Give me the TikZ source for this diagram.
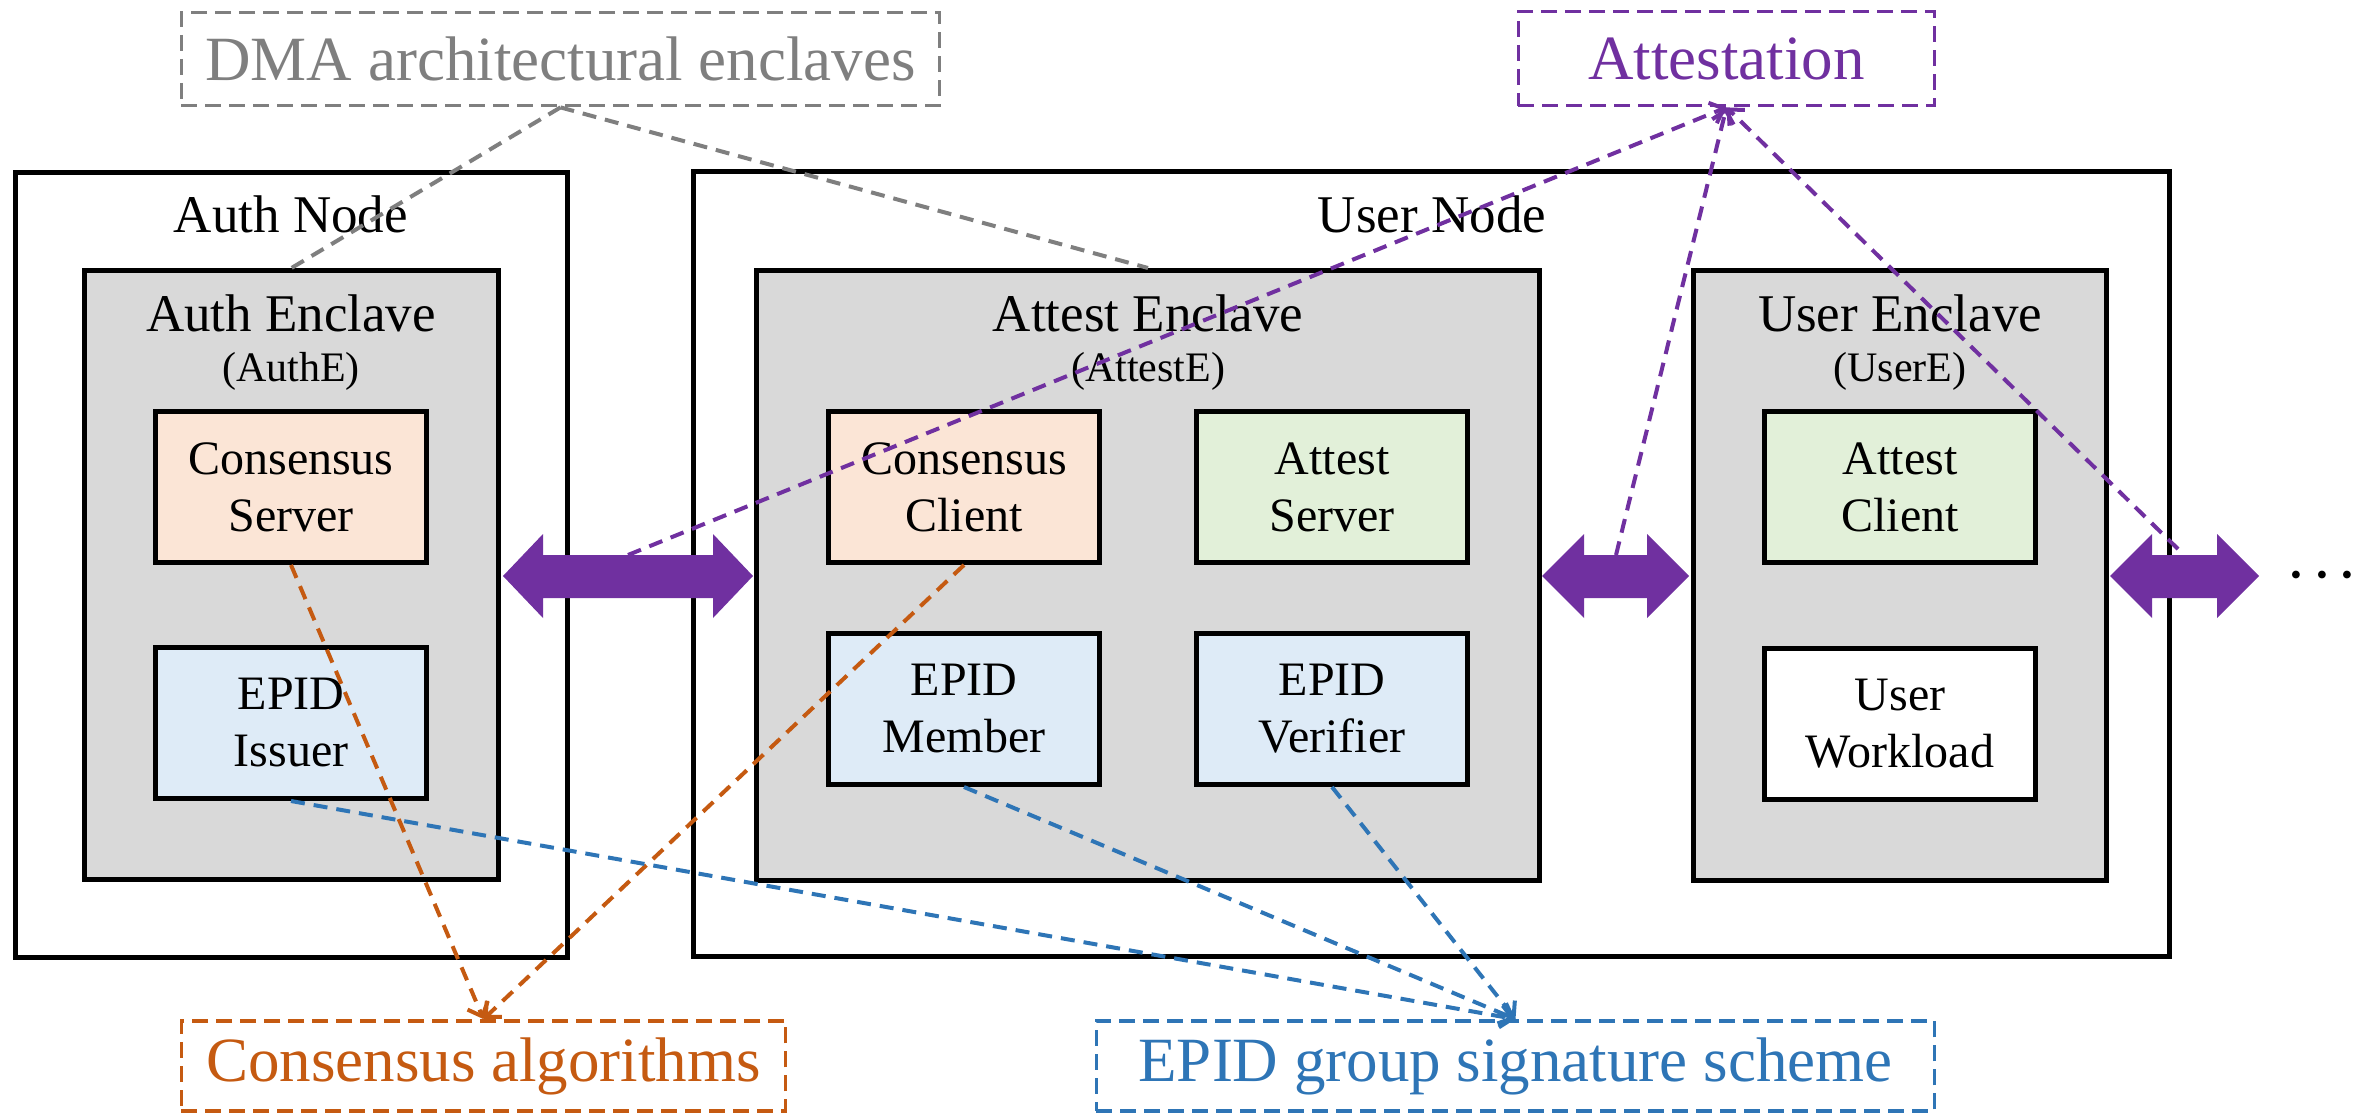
\documentclass[tikz,border=0pt]{standalone}
\usepackage{fontspec}
\setmainfont{Liberation Serif}
\usetikzlibrary{arrows.meta}
\definecolor{cgray}{HTML}{7F7F7F}
\definecolor{cpurple}{HTML}{7030A0}
\definecolor{corange}{HTML}{C55A11}
\definecolor{cblue}{HTML}{2E75B6}
\definecolor{fcons}{HTML}{FBE5D6}
\definecolor{fatt}{HTML}{E2F0D9}
\definecolor{fepid}{HTML}{DEEBF7}
\definecolor{fencl}{HTML}{D9D9D9}
\begin{document}
\begin{tikzpicture}[x=0.5pt,y=-0.5pt,
  sz/.style 2 args={minimum width=#1*0.5pt-2.4pt, minimum height=#2*0.5pt-2.4pt, inner sep=0pt},
  blk/.style={draw=black, line width=2.4pt},
  titlefont/.style={font=\fontsize{26.5}{30}\selectfont, inner sep=0pt},
  subfont/.style={font=\fontsize{21}{24}\selectfont, inner sep=0pt},
  boxtext/.style={align=center, font=\fontsize{24}{28.5}\selectfont},
  lbl/.style={dashed, dash pattern=on 8pt off 4pt, line width=1.8pt, font=\fontsize{31.5}{36}\selectfont},
  conn/.style={line width=2pt, dash pattern=on 7pt off 4.5pt},
  tipc/.style={-{Straight Barb[length=6pt,width=11pt]}}
]
\useasboundingbox (0,0) rectangle (2371,1117);

% outer nodes
\node[blk, fill=white, sz={557}{790}] (authnode) at (291.5,565) {};
\node[blk, fill=white, sz={1481}{790}] (usernode) at (1431.5,564) {};
\node[titlefont] (authnodet) at (291,214) {Auth Node};
\node[titlefont] (usernodet) at (1432,214) {User Node};

% enclaves
\node[blk, fill=fencl, sz={419}{614}] (authencl) at (291.5,575) {};
\node[blk, fill=fencl, sz={788}{615}] (attestencl) at (1148,575.5) {};
\node[blk, fill=fencl, sz={418}{615}] (userencl) at (1900,575.5) {};
\node[titlefont] (authenclt) at (291,313) {Auth Enclave};
\node[subfont] (authencls) at (291,371) {(AuthE)};
\node[titlefont] (attestenclt) at (1148,313) {Attest Enclave};
\node[subfont] (attestencls) at (1148,371) {(AttestE)};
\node[titlefont] (userenclt) at (1900,313) {User Enclave};
\node[subfont] (userencls) at (1900,371) {(UserE)};

% inner boxes
\node[blk, fill=fcons, sz={276}{156}, boxtext] (cserver) at (291,487) {Consensus\\Server};
\node[blk, fill=fepid, sz={276}{156}, boxtext] (eissuer) at (291,723) {EPID\\Issuer};
\node[blk, fill=fcons, sz={276}{156}, boxtext] (cclient) at (964,487) {Consensus\\Client};
\node[blk, fill=fatt, sz={276}{156}, boxtext] (aserver) at (1332,487) {Attest\\Server};
\node[blk, fill=fepid, sz={276}{156}, boxtext] (emember) at (964,709) {EPID\\Member};
\node[blk, fill=fepid, sz={276}{156}, boxtext] (everif) at (1332,709) {EPID\\Verifier};
\node[blk, fill=fatt, sz={276}{156}, boxtext] (aclient) at (1900,487) {Attest\\Client};
\node[blk, fill=white, sz={276}{156}, boxtext] (uwork) at (1900,724) {User\\Workload};

% double arrows
\fill[cpurple] (503,576) -- (543,534) -- (543,555) -- (713,555) -- (713,534) -- (753,576)
  -- (713,618) -- (713,598) -- (543,598) -- (543,618) -- cycle;
\fill[cpurple] (1542,576) -- (1584,534) -- (1584,555) -- (1647,555) -- (1647,534) -- (1689,576)
  -- (1647,618) -- (1647,598) -- (1584,598) -- (1584,618) -- cycle;
\fill[cpurple] (2110,576) -- (2152,534) -- (2152,555) -- (2217,555) -- (2217,534) -- (2259,576)
  -- (2217,618) -- (2217,598) -- (2152,598) -- (2152,618) -- cycle;
\coordinate (a1top) at (628,555);
\coordinate (a2top) at (1616,555);
\coordinate (a3top) at (2178,549);
\node[font=\fontsize{33}{36}\selectfont\boldmath, inner sep=0pt] (dots) at (2322,576) {$\cdots$};

% label boxes
\node[lbl, draw=cgray, text=cgray, sz={763}{98}] (dma) at (560.5,59) {DMA architectural enclaves};
\node[lbl, draw=cpurple, text=cpurple, sz={421}{99}] (att) at (1726.5,58.5) {Attestation};
\node[lbl, draw=corange, text=corange, sz={609}{95}] (calg) at (483.5,1066) {Consensus algorithms};
\node[lbl, draw=cblue, text=cblue, sz={843}{95}] (epid) at (1515.5,1066) {EPID group signature scheme};

% connectors
\draw[conn, cgray] (dma.south) -- (authencl.north);
\draw[conn, cgray] (dma.south) -- (attestencl.north);
\draw[conn, cpurple, tipc] (a1top) -- (att.south);
\draw[conn, cpurple, tipc] (a2top) -- (att.south);
\draw[conn, cpurple, tipc] (a3top) -- (att.south);
\draw[conn, corange, tipc] (cserver.south) -- (calg.north);
\draw[conn, corange, tipc] (cclient.south) -- (calg.north);
\draw[conn, cblue, tipc] (eissuer.south) -- (epid.north);
\draw[conn, cblue, tipc] (emember.south) -- (epid.north);
\draw[conn, cblue, tipc] (everif.south) -- (epid.north);
\end{tikzpicture}
\end{document}
